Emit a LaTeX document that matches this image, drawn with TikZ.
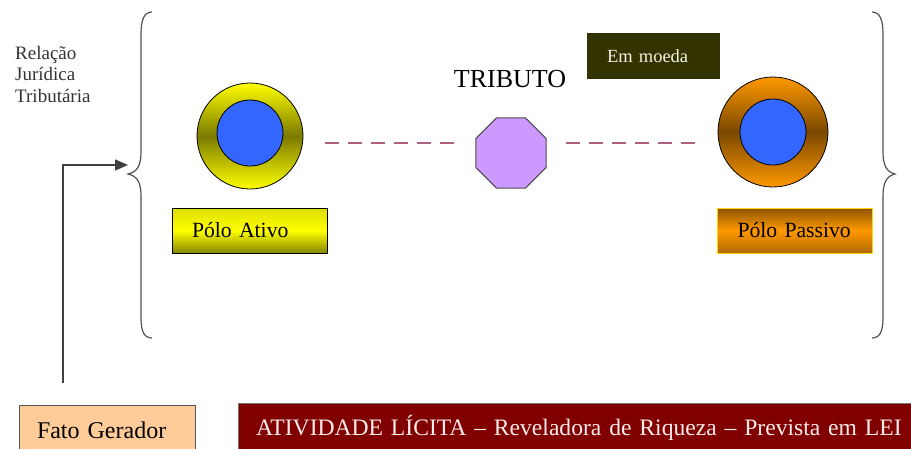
\documentclass[tikz,border=0pt]{standalone}
\usepackage{fontspec}
\setmainfont{Liberation Serif}
\usetikzlibrary{shapes.geometric,arrows.meta,calc}
\definecolor{ylw}{HTML}{FFFF00}
\definecolor{olv}{HTML}{7A7A00}
\definecolor{orng}{HTML}{FF9900}
\definecolor{brwn}{HTML}{7A4800}
\definecolor{lav}{HTML}{CC99FF}
\definecolor{blu}{HTML}{3366FF}
\definecolor{dkolive}{HTML}{333300}
\definecolor{peach}{HTML}{FFCC99}
\definecolor{maroonc}{HTML}{800000}
\definecolor{dashc}{HTML}{B0607F}
\definecolor{cream}{HTML}{F2F2E6}
\definecolor{lineg}{HTML}{505050}
\begin{document}
\begin{tikzpicture}[x=1pt,y=-1pt,
  ring/.style={circle,draw=black,line width=0.8pt,inner sep=0pt},
  core/.style={circle,draw=black,line width=0.8pt,fill=blu,inner sep=0pt,minimum size=66pt},
  polebox/.style={rectangle,minimum width=155pt,minimum height=45pt,text width=115pt,inner xsep=20pt,align=left,font=\fontsize{21.7}{24}\selectfont},
  dashline/.style={draw=dashc,line width=1.6pt,dash pattern=on 14pt off 9pt},
  bracec/.style={draw=lineg,line width=1.2pt},
  bottombox/.style={rectangle,minimum height=50pt,align=left,font=\fontsize{24}{28}\selectfont}
]
\useasboundingbox (0,0) rectangle (911,448);

% label at top-left
\node[anchor=north west,inner sep=0pt,align=left,text=black!80,font=\fontsize{19}{21.5}\selectfont] (rel) at (15,46) {Relação\\Jurídica\\Tributária};

% braces
\draw[bracec] (152,12) .. controls (144,12) and (141,20) .. (141,34) -- (141,152) .. controls (141,166) and (137,172) .. (128,174) .. controls (137,176) and (141,182) .. (141,196) -- (141,318) .. controls (141,331) and (144,338) .. (152,338);
\draw[bracec] (872,12) .. controls (880,12) and (883,20) .. (883,34) -- (883,152) .. controls (883,166) and (887,172) .. (895,174) .. controls (887,176) and (883,182) .. (883,196) -- (883,318) .. controls (883,331) and (880,338) .. (872,338);

% poles
\node[ring,minimum size=106pt,top color=ylw,bottom color=ylw,middle color=olv] (ya) at (250,136) {};
\node[core] (yai) at (250,133) {};
\node[ring,minimum size=110pt,top color=orng,bottom color=orng,middle color=brwn] (oa) at (773,132) {};
\node[core] (oai) at (773,132) {};

% tributo
\node[regular polygon,regular polygon sides=8,minimum size=76pt,inner sep=0pt,fill=lav,draw=black!70,line width=1pt] (oct) at (511,153) {};
\node[font=\fontsize{26}{30}\selectfont,inner sep=0pt] (trib) at (510,79) {TRIBUTO};
\node[rectangle,fill=dkolive,minimum width=133pt,minimum height=46pt,text width=93pt,inner xsep=20pt,align=left,text=cream,font=\fontsize{18.5}{22}\selectfont] (moeda) at (653.5,56) {Em moeda};

% dashed links
\draw[dashline] ([shift={(22,7)}]ya.east) -- ([shift={(-20,-10)}]oct.west);
\draw[dashline] ([shift={(19,-10)}]oct.east) -- ([shift={(-21,11)}]oa.west);

% pole boxes
\node[polebox,draw=black,line width=0.8pt,top color=ylw!75!olv,bottom color=olv!90!ylw,middle color=ylw] (ativo) at (249.5,230.5) {Pólo Ativo};
\node[polebox,draw=ylw!60!orng,line width=0.8pt,top color=brwn!85!orng,bottom color=brwn!60!orng,middle color=orng] (passivo) at (795,230.5) {Pólo Passivo};

% bottom boxes
\node[bottombox,fill=peach,draw=black!65,line width=1pt,minimum width=176pt,text width=140pt,inner xsep=18pt] (fato) at (107,430) {Fato Gerador};
\node[bottombox,fill=maroonc,draw=black!55,line width=1pt,text width=659pt,inner xsep=18pt,text=white!92!red,font=\fontsize{23.6}{28}\selectfont] (ativ) at (585.5,428) {ATIVIDADE LÍCITA – Reveladora de Riqueza – Prevista em LEI};

% arrow from fato gerador to brace
\coordinate (arrstart) at (63,383);
\coordinate (bracetip) at (128,165);
\draw[draw=black!75,line width=1.5pt,-{Triangle[length=13pt,width=11pt]}] (arrstart) |- (bracetip);
\end{tikzpicture}
\end{document}
